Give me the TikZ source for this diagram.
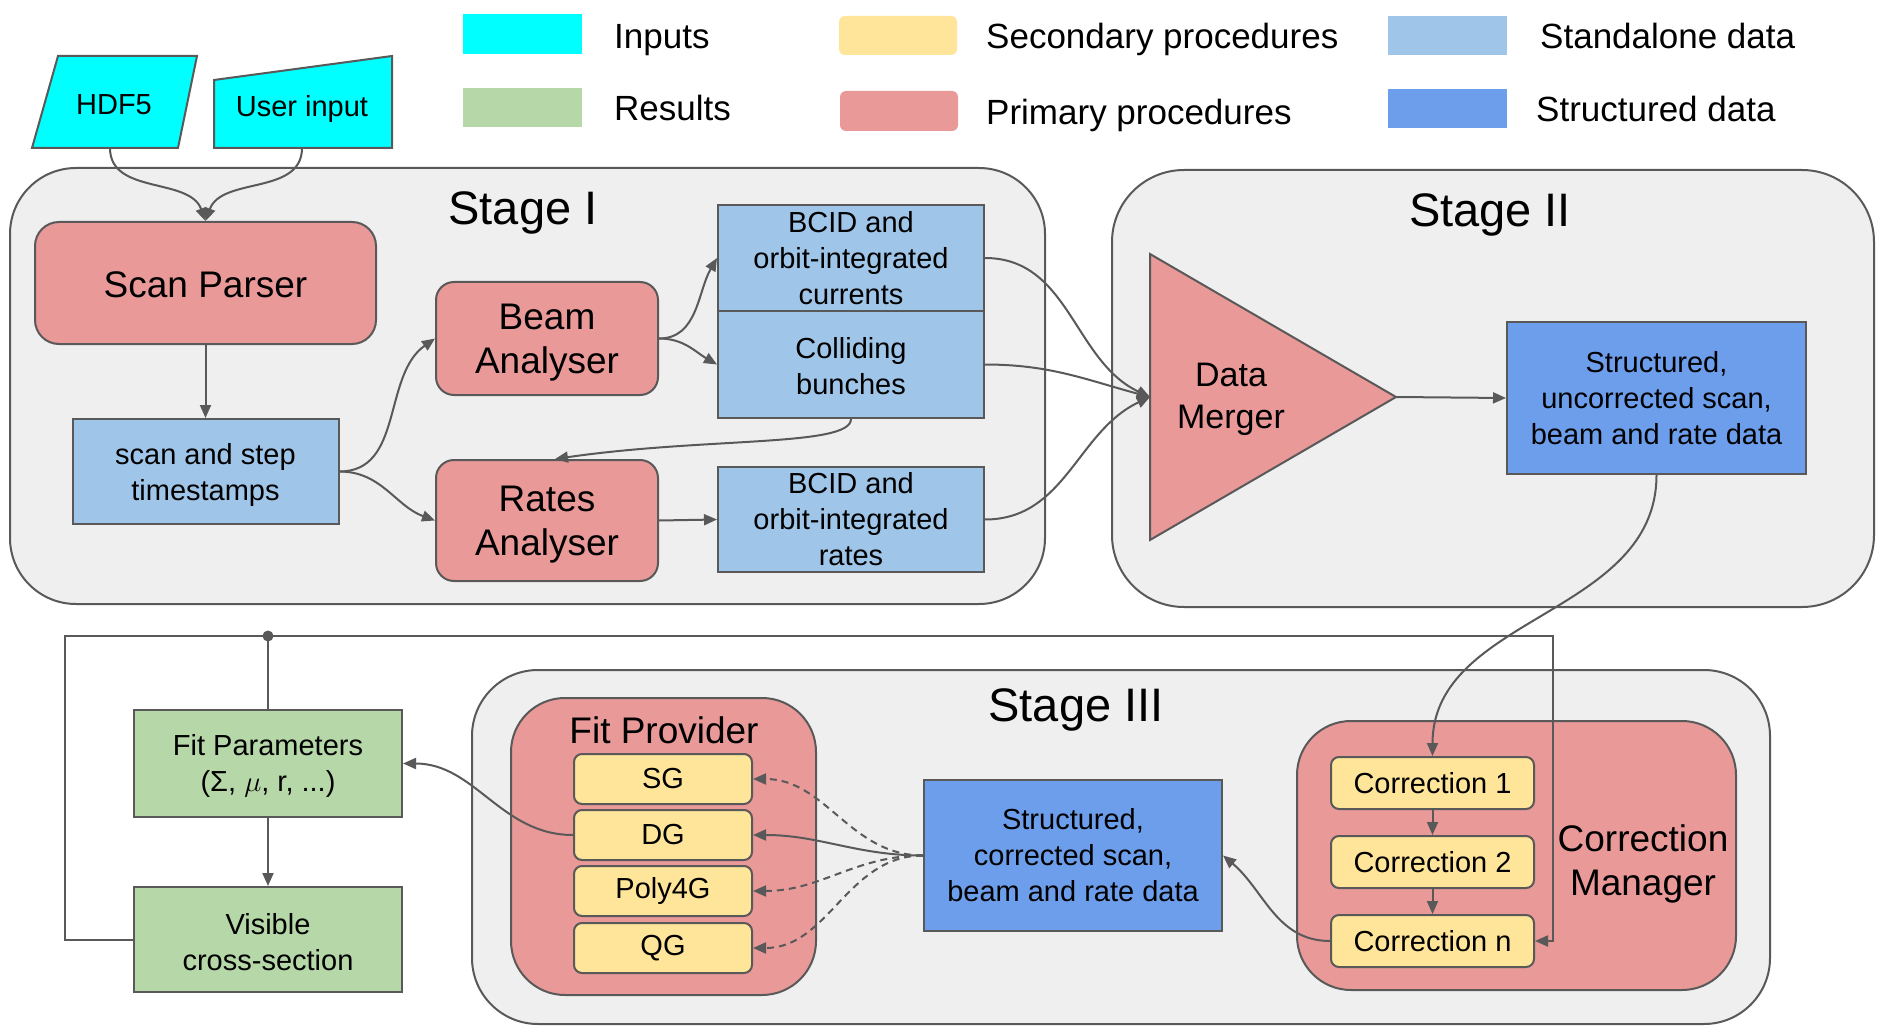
\documentclass[tikz,border=0pt]{standalone}
\usepackage{fix-cm}
\usepackage{fontspec}
\setmainfont{Liberation Sans}
\usetikzlibrary{arrows.meta,calc}
\definecolor{cin}{HTML}{00FFFF}
\definecolor{cres}{HTML}{B6D7A8}
\definecolor{csec}{HTML}{FFE599}
\definecolor{cpri}{HTML}{EA9999}
\definecolor{csta}{HTML}{9FC5E8}
\definecolor{cstr}{HTML}{6D9EEB}
\definecolor{cstage}{HTML}{EFEFEF}
\definecolor{cline}{HTML}{595959}
\begin{document}
\begin{tikzpicture}[x=1pt,y=1pt,
  fs/.style={font=\fontsize{29}{36}\selectfont},
  fm/.style={font=\fontsize{37}{44}\selectfont},
  fl/.style={font=\fontsize{47}{56}\selectfont},
  fg/.style={font=\fontsize{35}{42}\selectfont},
  stagebox/.style={draw=cline, fill=cstage, line width=2pt, rounded corners=66pt},
  box/.style={draw=cline, line width=2pt, align=center, inner sep=0pt},
  sdata/.style={box, fill=csta, fs},
  stdata/.style={box, fill=cstr, fs},
  prim/.style={box, fill=cpri, fm},
  sec/.style={box, fill=csec, rounded corners=8pt, fs},
  res/.style={box, fill=cres, fs},
  plainline/.style={draw=cline, line width=2pt},
  conn/.style={plainline, -{Triangle[length=13pt,width=11pt]}},
  dconn/.style={conn, dash pattern=on 7pt off 5pt},
  lbl/.style={anchor=west, fg, text height=25pt, text depth=7pt, inner sep=0pt},
]
\useasboundingbox (0,0) rectangle (1882,-1032);
\fill[white] (0,0) rectangle (1882,-1032);

% legend
\fill[cin] (463,-14) rectangle (582,-54);
\node[lbl] (lgin) at (614,-40) {Inputs};
\fill[cres] (463,-88) rectangle (582,-127);
\node[lbl] (lgres) at (614,-112) {Results};
\fill[csec, rounded corners=6pt] (839,-16) rectangle (957,-55);
\node[lbl] (lgsec) at (986,-40) {Secondary procedures};
\fill[cpri, rounded corners=6pt] (840,-91) rectangle (958,-131);
\node[lbl] (lgpri) at (986,-116) {Primary procedures};
\fill[csta] (1388,-16) rectangle (1507,-55);
\node[lbl] (lgsta) at (1540,-40) {Standalone data};
\fill[cstr] (1388,-89) rectangle (1507,-128);
\node[lbl] (lgstr) at (1536,-113) {Structured data};

% stage boxes
\draw[stagebox] (10,-168) rectangle (1045,-604);
\draw[stagebox,rounded corners=72pt] (1112,-170) rectangle (1874,-607);
\draw[stagebox] (472,-670) rectangle (1770,-1024);
\node[fl] (s1) at (523,-213) {Stage I};
\node[fl] (s2) at (1490,-215) {Stage II};
\node[fl] (s3) at (1076,-710) {Stage III};

% inputs
\draw[draw=cline, fill=cin, line width=2pt] (58,-56) -- (197,-56) -- (178,-148) -- (32,-148) -- cycle;
\node[fs] (hdf) at (114,-105) {HDF5};
\coordinate (hdfb) at (110,-148);
\draw[draw=cline, fill=cin, line width=2pt] (214,-80) -- (392,-56) -- (392,-148) -- (214,-148) -- cycle;
\node[fs] (user) at (302,-109) {User input};
\coordinate (userb) at (302,-148);

% stage I
\node[prim, minimum width=341pt, minimum height=122pt, rounded corners=24pt] (parser) at (205.5,-283) {};
\node[fm] (parsertxt) at (205.5,-285) {Scan Parser};
\node[sdata, minimum width=266pt, minimum height=105pt] (ts) at (205.5,-471.5) {};
\node[fs, align=center] (tstxt) at (205.5,-475) {scan and step\\timestamps};
\node[prim, minimum width=222pt, minimum height=113pt, rounded corners=18pt] (beam) at (547,-338.5) {};
\node[fm, align=center] (beamtxt) at (547,-343) {Beam\\Analyser};
\node[prim, minimum width=222pt, minimum height=121pt, rounded corners=18pt] (rates) at (547,-520.5) {};
\node[fm, align=center] (ratestxt) at (547,-525) {Rates\\Analyser};
\node[sdata, minimum width=266pt, minimum height=106pt] (cur) at (851,-258) {BCID and\\orbit-integrated\\currents};
\node[sdata, minimum width=266pt, minimum height=107pt] (coll) at (851,-364.5) {};
\node[fs, align=center] (colltxt) at (851,-366) {Colliding\\bunches};
\node[sdata, minimum width=266pt, minimum height=105pt] (brates) at (851,-519.5) {BCID and\\orbit-integrated\\rates};

% stage II
\draw[draw=cline, fill=cpri, line width=2pt] (1150,-254) -- (1150,-540) -- (1396,-397) -- cycle;
\coordinate (mergein) at (1150,-397);
\coordinate (mergeout) at (1396,-397);
\node[font=\fontsize{34}{42}\selectfont, align=center] (merger) at (1231,-399) {Data\\Merger};
\node[stdata, minimum width=299pt, minimum height=152pt] (uncor) at (1656.5,-398) {Structured,\\uncorrected scan,\\beam and rate data};

% stage III
\node[box, fill=cpri, rounded corners=54pt, minimum width=305pt, minimum height=297pt] (fitprov) at (663.5,-846.5) {};
\node[fm] (fptitle) at (664,-730) {Fit Provider};
\node[sec, minimum width=178pt, minimum height=50pt] (sg) at (663,-779) {SG};
\node[sec, minimum width=178pt, minimum height=50pt] (dg) at (663,-835) {DG};
\node[sec, minimum width=178pt, minimum height=50pt] (poly) at (663,-891) {Poly4G};
\node[sec, minimum width=178pt, minimum height=50pt] (qg) at (663,-948) {QG};
\node[stdata, minimum width=298pt, minimum height=151pt] (cor) at (1073,-855.5) {Structured,\\corrected scan,\\beam and rate data};
\node[box, fill=cpri, rounded corners=54pt, minimum width=439pt, minimum height=269pt] (cm) at (1516.5,-855.5) {};
\node[fm, align=center] (cmtitle) at (1643,-864) {Correction\\Manager};
\node[sec, minimum width=203pt, minimum height=52pt] (c1) at (1432.5,-783) {Correction 1};
\node[sec, minimum width=203pt, minimum height=52pt] (c2) at (1432.5,-862) {Correction 2};
\node[sec, minimum width=203pt, minimum height=52pt] (cn) at (1432.5,-941) {Correction n};

% results
\node[res, minimum width=268pt, minimum height=107pt] (fitp) at (268,-763.5) {};
\node[fs, align=center] (fitptxt) at (268,-766) {Fit Parameters\\(Σ, $\mu$, r, ...)};
\node[res, minimum width=268pt, minimum height=105pt] (vis) at (268,-939.5) {};
\node[fs, align=center] (vistxt) at (268,-942) {Visible\\cross-section};

% connectors
\draw[conn] (hdfb) to[out=-90,in=110] (parser.north);
\draw[conn] (userb) to[out=-90,in=70] (parser.north);
\draw[conn] (parser.south) -- (ts.north);
\draw[conn] (ts.east) to[out=0,in=215] (beam.west);
\draw[conn] (ts.east) to[out=0,in=160] (rates.west);
\draw[conn] (beam.east) to[out=0,in=240] (cur.west);
\draw[conn] (beam.east) to[out=0,in=150] (coll.west);
\draw[conn] (coll.south) .. controls ($(coll.south)+(0,-28)$) and ($(rates.north)+(160,22)$) .. ($(rates.north)+(8,0)$);
\draw[conn] (rates.east) -- (brates.west);
\draw[conn] (cur.east) to[out=0,in=155] (mergein);
\draw[conn] (coll.east) to[out=0,in=165] (mergein);
\draw[conn] (brates.east) to[out=0,in=205] (mergein);
\draw[conn] (mergeout) -- (uncor.west);
\draw[conn] (uncor.south) to[out=-90,in=90] (c1.north);
\draw[conn] (c1.south) -- (c2.north);
\draw[conn] (c2.south) -- (cn.north);
\draw[conn] (cn.west) to[out=180,in=-40] (cor.east);
\draw[dconn] (cor.west) to[out=180,in=0] (sg.east);
\draw[conn] (cor.west) to[out=180,in=0] (dg.east);
\draw[dconn] (cor.west) to[out=180,in=0] (poly.east);
\draw[dconn] (cor.west) to[out=180,in=0] (qg.east);
\draw[conn] (dg.west) to[out=180,in=0] (fitp.east);
\draw[conn] (fitp.south) -- (vis.north);

% feedback loop
\coordinate (junc) at (268,-636);
\coordinate (loopL) at (65,-636);
\coordinate (loopR) at (1553,-636);
\draw[plainline] (vis.west) -| (loopL) -- (junc);
\draw[conn] (fitp.north) -- (junc) -- (loopR) |- (cn.east);
\fill[cline] (junc) circle (5.5pt);
\end{tikzpicture}
\end{document}
